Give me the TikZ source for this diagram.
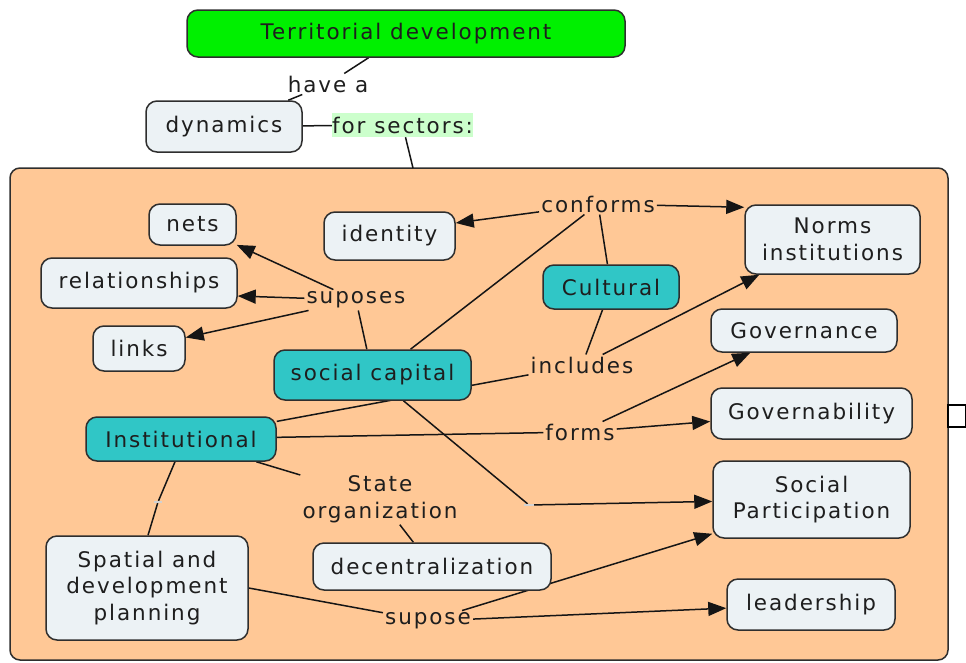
\documentclass[tikz,border=0pt]{standalone}
\usepackage{fontspec}
\setmainfont[LetterSpace=9]{DejaVu Sans}
\usetikzlibrary{arrows.meta,calc}
\definecolor{peach}{HTML}{FFC896}
\definecolor{tealc}{HTML}{30C6C6}
\definecolor{greenc}{HTML}{00F000}
\definecolor{lightc}{HTML}{ECF2F5}
\definecolor{hilite}{HTML}{CCFFCC}
\definecolor{bord}{HTML}{2E2E2E}
\definecolor{linec}{HTML}{151515}
\definecolor{txt}{HTML}{1E1E1E}
\pgfdeclarelayer{bg}
\pgfsetlayers{bg,main}
\begin{document}
\begin{tikzpicture}[x=1pt,y=-1pt,
  every node/.style={font=\fontsize{21.5}{26.5}\selectfont, text=txt},
  concept/.style={draw=bord, line width=1.5pt, rounded corners=11pt, fill=lightc, inner sep=0pt, align=center},
  tealnode/.style={concept, fill=tealc},
  phrase/.style={inner sep=2pt, align=center},
  emptyph/.style={fill=gray!35, minimum width=10pt, minimum height=2pt, inner sep=0pt},
  conn/.style={draw=linec, line width=1.5pt},
  arr/.style={conn, -{Triangle[length=18pt,width=14pt]}},
]
\useasboundingbox (0,0) rectangle (966,662);

% concepts
\node[concept, fill=greenc, minimum width=438pt, minimum height=47pt] (terr) at (406,33.5) {Territorial development};
\node[concept, minimum width=156pt, minimum height=51pt] (dyn) at (224,126.5) {dynamics};
\node[concept, minimum width=87pt, minimum height=41pt] (nets) at (192.5,224.5) {nets};
\node[concept, minimum width=131pt, minimum height=48pt] (ident) at (389.5,236) {identity};
\node[concept, minimum width=175pt, minimum height=69pt] (norms) at (832.5,239.5) {Norms\\institutions};
\node[concept, minimum width=196pt, minimum height=50pt] (rel) at (139,283) {relationships};
\node[tealnode, minimum width=136pt, minimum height=44pt] (cult) at (611,287) {Cultural};
\node[concept, minimum width=92pt, minimum height=45pt] (links) at (139,348.5) {links};
\node[concept, minimum width=186pt, minimum height=43pt] (govn) at (804,330.5) {Governance};
\node[tealnode, minimum width=197pt, minimum height=50pt] (sc) at (372.5,375) {social capital};
\node[tealnode, minimum width=190pt, minimum height=44pt] (inst) at (181,439) {Institutional};
\node[concept, minimum width=201pt, minimum height=51pt] (govb) at (811.5,413.5) {Governability};
\node[concept, minimum width=197pt, minimum height=77pt] (sp) at (811.5,499.5) {Social\\Participation};
\node[concept, minimum width=238pt, minimum height=47pt] (dec) at (432,566.5) {decentralization};
\node[concept, minimum width=202pt, minimum height=104pt] (spat) at (147,588) {Spatial and\\development\\planning};
\node[concept, minimum width=168pt, minimum height=51pt] (lead) at (811,604.5) {leadership};

% linking phrases
\node[phrase] (havea) at (328,84) {have a};
\node[fill=hilite, inner sep=0pt, minimum width=139pt, minimum height=24pt] (forsec) at (402.5,125) {for sectors:};
\node[phrase] (conf) at (598,204) {conforms};
\node[phrase] (supo) at (356,300) {suposes};
\node[phrase] (incl) at (582,365) {includes};
\node[phrase] (forms) at (580,432) {forms};
\node[phrase] (state) at (380,499) {State\\organization};
\node[phrase] (supose) at (428,621) {supose};
\node[emptyph] (e1) at (529,505) {};
\node[emptyph, minimum width=8pt] (e2) at (158,502) {};
\coordinate (boxtop) at (413,168);

% small icon at right edge
\node[draw=black, fill=white, line width=1.2pt, minimum width=18pt, minimum height=22pt, inner sep=0pt] (icon) at (957,416) {};

\begin{pgfonlayer}{bg}
\draw[fill=peach, draw=bord, line width=1.5pt, rounded corners=10pt] (10,168) rectangle (948,660);
\draw[conn] (terr) -- (havea) -- (dyn);
\draw[conn] (dyn) -- (forsec);
\draw[conn] (forsec) -- (boxtop);
% suposes
\draw[conn] (sc) -- (supo);
\draw[arr] (supo) -- (nets);
\draw[arr] (supo) -- ($(rel.east)+(0,13)$);
\draw[arr] (supo) -- ($(links.east)+(0,-11)$);
% conforms
\draw[conn] ($(sc.north)+(38,0)$) -- (conf);
\draw[conn] (cult) -- (conf);
\draw[arr] (conf) -- ($(ident.east)+(0,-13)$);
\draw[arr] (conf) -- ($(norms.north west)+(0,3)$);
% includes
\draw[conn] (cult) -- (incl);
\draw[conn] (inst) -- (incl);
\draw[arr] (incl) -- ($(norms.south west)+(15,0)$);
% forms
\draw[conn] (inst) -- (forms);
\draw[arr] (forms) -- ($(govb.west)+(0,8)$);
\draw[arr] (forms) -- ($(govn.south west)+(40,0)$);
% social participation
\draw[conn] (sc) -- (e1);
\draw[arr] (e1) -- (sp);
% state organization
\draw[conn] (inst) -- (state);
\draw[conn] (state) -- (dec);
% institutional to spatial
\draw[conn] ($(inst.south)+(-6,0)$) -- (e2) -- ($(spat.north)+(1,0)$);
% supose
\draw[conn] (spat.east) -- (supose);
\draw[arr] (supose) -- ($(sp.south west)+(0,-5)$);
\draw[arr] (supose) -- (lead);
\end{pgfonlayer}
\end{tikzpicture}
\end{document}
